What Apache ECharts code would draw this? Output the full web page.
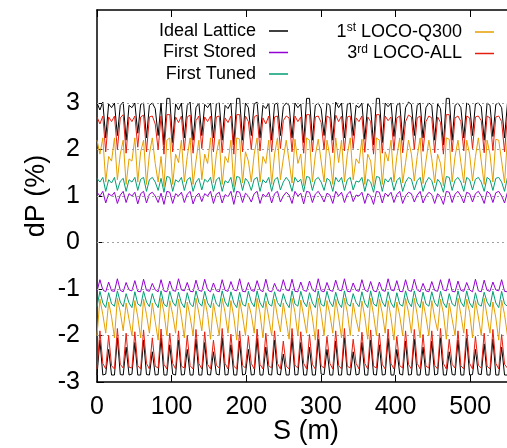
<!DOCTYPE html>
<html><head><meta charset="utf-8">
<script src="https://cdn.jsdelivr.net/npm/echarts@6/dist/echarts.min.js"></script>
<style>html,body{margin:0;padding:0;background:#fff}#c{width:507px;height:448px}</style>
</head><body><div id="c"></div>
<script>
// S positions (m)
const S = [0,3.9,7.8,11.7,15.6,19.5,23.4,27.3,31.2,35.1,39,42.9,46.8,50.7,54.6,58.5,62.4,66.3,70.2,74.1,78,81.9,85.8,89.7,
93.6,97.5,101.4,105.3,109.2,113.1,117,120.9,124.8,128.7,132.6,136.5,140.4,144.3,148.2,152.1,156,159.9,163.8,167.7,171.6,175.5,179.4,183.3,
187.2,191.1,195,198.9,202.8,206.7,210.6,214.5,218.4,222.3,226.2,230.1,234,237.9,241.8,245.7,249.6,253.5,257.4,261.3,265.2,269.1,273,276.9,
280.8,284.7,288.6,292.5,296.4,300.3,304.2,308.1,312,315.9,319.8,323.7,327.6,331.5,335.4,339.3,343.2,347.1,351,354.9,358.8,362.7,366.6,370.5,
374.4,378.3,382.2,386.1,390,393.9,397.8,401.7,405.6,409.5,413.4,417.3,421.2,425.1,429,432.9,436.8,440.7,444.6,448.5,452.4,456.3,460.2,464.1,
468,471.9,475.8,479.7,483.6,487.5,491.4,495.3,499.2,503.1,507,510.9,514.8,518.7,522.6,526.5,530.4,534.3,538.2,542.1,546,549.9,553.8,557.7,
561.6];

const idealUp = [3.0,2.85,3.02,2.25,2.98,2.9, 3.0,2.3,2.95,3.02,2.2,2.95, 2.9,3.0,2.35,2.97,3.0,2.25, 2.95,3.0,2.88,2.3,3.0,2.1,
3.1,3.1,2.15,2.98,2.85,3.0, 2.25,2.95,3.02,2.2,2.9,3.0, 2.3,2.97,2.9,3.0,2.25,2.98, 3.0,2.2,2.95,2.88,3.0,2.1,
3.1,3.1,2.2,3.0,2.9,2.3, 2.98,3.02,2.25,2.95,2.88,3.0, 2.2,2.97,3.0,2.3,2.92,3.0, 2.95,2.25,3.0,2.9,2.98,2.15,
3.1,3.1,2.2,2.95,3.0,2.88, 2.3,3.0,2.95,2.2,3.02,2.9, 3.0,2.25,2.97,3.0,2.3,2.95, 2.9,3.0,2.22,2.98,2.9,2.1,
3.1,3.1,2.15,3.0,2.92,3.0, 2.28,2.95,3.0,2.2,2.9,3.02, 2.97,2.3,2.95,3.0,2.25,2.9, 3.0,2.95,2.2,2.98,2.88,2.1,
3.1,3.1,2.2,2.95,3.0,2.9, 2.25,3.0,2.95,2.3,2.98,3.0, 2.92,2.2,3.0,2.95,2.28,2.97, 3.0,2.9,2.25,3.0,2.95,2.15,
3.1];
const idealLo = [-2.85,-2.1,-2.85,-2.83,-2.3,-2.85, -2.85,-2.05,-2.84,-2.85,-2.25,-2.85, -2.83,-2.15,-2.85,-2.85,-2.1,-2.84, -2.85,-2.35,-2.85,-2.84,-2.05,-2.85,
-2.85,-2.2,-2.83,-2.85,-2.1,-2.85, -2.84,-2.3,-2.85,-2.85,-2.08,-2.85, -2.85,-2.15,-2.84,-2.85,-2.35,-2.83, -2.85,-2.05,-2.85,-2.84,-2.2,-2.85,
-2.85,-2.12,-2.85,-2.83,-2.3,-2.85, -2.84,-2.06,-2.85,-2.85,-2.25,-2.84, -2.85,-2.1,-2.83,-2.85,-2.4,-2.85, -2.85,-2.05,-2.85,-2.84,-2.15,-2.85,
-2.85,-2.25,-2.85,-2.85,-2.08,-2.83, -2.84,-2.3,-2.85,-2.85,-2.12,-2.85, -2.85,-2.05,-2.84,-2.85,-2.35,-2.85, -2.83,-2.15,-2.85,-2.85,-2.1,-2.84,
-2.85,-2.2,-2.85,-2.84,-2.06,-2.85, -2.85,-2.3,-2.83,-2.85,-2.12,-2.85, -2.84,-2.08,-2.85,-2.85,-2.25,-2.85, -2.85,-2.12,-2.85,-2.83,-2.05,-2.85,
-2.85,-2.35,-2.84,-2.85,-2.1,-2.85, -2.85,-2.06,-2.85,-2.84,-2.3,-2.83, -2.84,-2.18,-2.85,-2.85,-2.08,-2.85, -2.85,-2.25,-2.85,-2.85,-2.12,-2.84,
-2.85];

const storedUp = [1.08,1.0,1.1,0.85,1.05,1.0, 1.08,0.84,1.02,1.1,0.86,1.05, 1.0,1.08,0.83,1.05,1.1,0.85, 1.04,1.08,1.0,0.86,1.06,0.82,
1.1,1.08,0.84,1.05,1.0,1.08, 0.86,1.04,1.1,0.83,1.0,1.06, 0.88,1.05,1.0,1.1,0.84,1.04, 1.08,0.85,1.03,0.98,1.1,0.82,
1.1,1.08,0.86,1.06,1.0,0.87, 1.05,1.1,0.84,1.04,0.98,1.08, 0.85,1.05,1.1,0.87,1.0,1.08, 1.02,0.84,1.1,1.0,1.06,0.83,
1.1,1.08,0.86,1.04,1.1,1.0, 0.87,1.06,1.02,0.84,1.1,1.0, 1.08,0.86,1.04,1.1,0.88,1.02, 1.0,1.08,0.84,1.05,1.0,0.82,
1.1,1.08,0.85,1.06,1.0,1.08, 0.86,1.03,1.1,0.84,1.0,1.08, 1.05,0.87,1.02,1.1,0.85,1.0, 1.08,1.03,0.84,1.05,0.98,0.82,
1.1,1.08,0.86,1.04,1.1,1.0, 0.85,1.08,1.05,0.87,1.05,1.1, 1.0,0.84,1.1,1.05,0.86,1.07, 1.1,1.0,0.85,1.08,1.04,0.83,
1.1];
const storedLo = [-1.05,-0.8,-1.02,-1.06,-0.85,-1.04, -1.05,-0.78,-1.03,-1.06,-0.86,-1.02, -1.04,-0.82,-1.05,-1.06,-0.79,-1.03, -1.05,-0.88,-1.02,-1.06,-0.8,-1.04,
-1.06,-0.83,-1.03,-1.05,-0.78,-1.02, -1.04,-0.86,-1.05,-1.06,-0.81,-1.03, -1.05,-0.79,-1.02,-1.06,-0.87,-1.04, -1.06,-0.8,-1.03,-1.05,-0.84,-1.02,
-1.04,-0.78,-1.05,-1.06,-0.86,-1.03, -1.05,-0.82,-1.02,-1.06,-0.79,-1.04, -1.06,-0.88,-1.03,-1.05,-0.8,-1.02, -1.04,-0.79,-1.05,-1.06,-0.85,-1.03,
-1.05,-0.83,-1.02,-1.06,-0.78,-1.04, -1.06,-0.86,-1.03,-1.05,-0.81,-1.02, -1.04,-0.78,-1.05,-1.06,-0.87,-1.03, -1.05,-0.8,-1.02,-1.06,-0.84,-1.04,
-1.06,-0.85,-1.03,-1.05,-0.78,-1.02, -1.04,-0.82,-1.05,-1.06,-0.8,-1.03, -1.05,-0.79,-1.02,-1.06,-0.88,-1.04, -1.06,-0.84,-1.03,-1.05,-0.8,-1.02,
-1.04,-0.78,-1.05,-1.06,-0.83,-1.03, -1.05,-0.86,-1.02,-1.06,-0.79,-1.04, -1.06,-0.81,-1.03,-1.05,-0.85,-1.02, -1.04,-0.8,-1.05,-1.06,-0.78,-1.03,
-1.05];

const tunedUp = [1.38,1.3,1.4,1.1,1.35,1.28, 1.4,1.12,1.32,1.38,1.1,1.35, 1.3,1.4,1.12,1.36,1.4,1.1, 1.35,1.4,1.3,1.12,1.38,1.08,
1.42,1.4,1.1,1.35,1.3,1.4, 1.12,1.35,1.4,1.1,1.3,1.38, 1.13,1.36,1.3,1.4,1.1,1.35, 1.4,1.1,1.33,1.28,1.4,1.08,
1.42,1.4,1.12,1.38,1.3,1.12, 1.36,1.4,1.1,1.35,1.28,1.4, 1.1,1.35,1.4,1.13,1.3,1.4, 1.32,1.1,1.4,1.3,1.36,1.09,
1.42,1.4,1.12,1.35,1.4,1.3, 1.12,1.38,1.33,1.1,1.4,1.3, 1.4,1.12,1.35,1.4,1.13,1.32, 1.3,1.4,1.1,1.36,1.3,1.08,
1.42,1.4,1.1,1.37,1.3,1.4, 1.12,1.33,1.4,1.1,1.3,1.4, 1.36,1.13,1.33,1.4,1.1,1.3, 1.4,1.33,1.1,1.36,1.28,1.08,
1.42,1.4,1.12,1.34,1.4,1.3, 1.1,1.4,1.35,1.13,1.36,1.4, 1.3,1.1,1.4,1.35,1.12,1.38, 1.4,1.3,1.1,1.4,1.34,1.08,
1.42];
const tunedLo = [-1.38,-1.05,-1.3,-1.4,-1.08,-1.32, -1.37,-1.04,-1.28,-1.38,-1.1,-1.3, -1.4,-1.06,-1.32,-1.37,-1.05,-1.28, -1.38,-1.1,-1.3,-1.4,-1.04,-1.33,
-1.38,-1.05,-1.28,-1.37,-1.07,-1.3, -1.4,-1.08,-1.32,-1.38,-1.04,-1.29, -1.37,-1.05,-1.3,-1.4,-1.1,-1.32, -1.38,-1.04,-1.28,-1.38,-1.06,-1.3,
-1.4,-1.07,-1.33,-1.37,-1.05,-1.28, -1.38,-1.04,-1.3,-1.4,-1.08,-1.32, -1.37,-1.06,-1.29,-1.38,-1.1,-1.3, -1.4,-1.04,-1.32,-1.37,-1.05,-1.28,
-1.38,-1.08,-1.3,-1.4,-1.04,-1.33, -1.37,-1.05,-1.28,-1.38,-1.07,-1.3, -1.4,-1.04,-1.32,-1.37,-1.1,-1.29, -1.38,-1.06,-1.3,-1.4,-1.04,-1.32,
-1.37,-1.05,-1.28,-1.38,-1.06,-1.3, -1.4,-1.08,-1.33,-1.37,-1.04,-1.28, -1.38,-1.04,-1.3,-1.4,-1.07,-1.32, -1.37,-1.06,-1.29,-1.38,-1.05,-1.3,
-1.4,-1.1,-1.32,-1.37,-1.04,-1.28, -1.38,-1.04,-1.3,-1.4,-1.08,-1.33, -1.37,-1.07,-1.28,-1.38,-1.05,-1.3, -1.4,-1.05,-1.32,-1.37,-1.06,-1.29,
-1.38];

const locoQUp = [2.2,1.9,2.25,1.3,1.85,1.75, 2.25,1.35,1.9,2.2,1.25,1.8, 1.75,2.25,1.3,1.95,2.2,1.25, 1.9,2.25,1.7,1.3,1.85,1.2,
2.2,2.25,1.25,1.9,1.72,2.2, 1.3,1.85,2.25,1.25,1.75,2.2, 1.35,1.9,1.7,2.25,1.28,1.9, 2.22,1.25,1.85,1.72,2.2,1.2,
2.25,2.22,1.28,1.95,1.75,1.3, 1.9,2.25,1.3,1.85,1.7,2.2, 1.25,1.9,2.25,1.35,1.8,2.2, 1.75,1.28,2.22,1.7,1.9,1.22,
2.25,2.2,1.3,1.88,2.22,1.75, 1.3,2.2,1.85,1.25,2.25,1.72, 2.2,1.3,1.9,2.25,1.35,1.8, 1.7,2.22,1.25,1.9,1.75,1.2,
2.25,2.2,1.25,1.95,1.75,2.2, 1.3,1.85,2.25,1.28,1.72,2.2, 1.9,1.32,1.85,2.25,1.27,1.75, 2.2,1.8,1.28,1.9,1.7,1.22,
2.25,2.22,1.3,1.85,2.2,1.72, 1.28,2.2,1.9,1.32,1.85,2.25, 1.75,1.25,2.2,1.9,1.3,2.22, 2.2,1.75,1.28,2.25,1.85,1.2,
2.22];
const locoQLo = [-2.0,-1.22,-1.55,-1.95,-1.28,-1.6, -2.05,-1.2,-1.5,-1.9,-1.3,-1.65, -2.0,-1.25,-1.6,-2.05,-1.22,-1.55, -1.95,-1.3,-1.7,-2.1,-1.2,-1.5,
-2.0,-1.25,-1.55,-1.95,-1.22,-1.6, -2.05,-1.28,-1.6,-2.0,-1.2,-1.52, -1.9,-1.22,-1.55,-2.08,-1.3,-1.65, -2.0,-1.2,-1.5,-1.95,-1.25,-1.6,
-2.1,-1.24,-1.58,-2.0,-1.3,-1.55, -1.95,-1.2,-1.52,-2.05,-1.26,-1.62, -2.0,-1.22,-1.6,-1.92,-1.3,-1.68, -2.08,-1.2,-1.5,-2.0,-1.24,-1.58,
-1.95,-1.28,-1.62,-2.1,-1.2,-1.52, -2.0,-1.25,-1.55,-1.95,-1.22,-1.6, -2.05,-1.2,-1.5,-2.0,-1.3,-1.65, -1.92,-1.26,-1.6,-2.08,-1.2,-1.55,
-2.0,-1.22,-1.52,-1.95,-1.25,-1.62, -2.1,-1.28,-1.58,-2.0,-1.2,-1.5, -1.95,-1.2,-1.55,-2.05,-1.27,-1.6, -2.0,-1.25,-1.62,-1.9,-1.22,-1.52,
-2.08,-1.3,-1.65,-2.0,-1.2,-1.55, -1.95,-1.22,-1.5,-2.05,-1.25,-1.6, -2.0,-1.2,-1.58,-1.95,-1.28,-1.62, -2.1,-1.24,-1.55,-2.0,-1.2,-1.5,
-1.95];

const locoAUp = [2.7,2.55,2.72,1.95,2.7,2.6, 2.72,2.0,2.68,2.75,1.92,2.7, 2.6,2.72,2.05,2.7,2.74,1.95, 2.7,2.72,2.55,2.0,2.72,1.9,
2.75,2.75,1.95,2.7,2.58,2.72, 1.98,2.7,2.74,1.92,2.62,2.72, 2.02,2.7,2.6,2.72,1.95,2.7, 2.72,1.93,2.68,2.58,2.72,1.9,
2.75,2.75,1.95,2.72,2.6,2.0, 2.7,2.74,1.97,2.68,2.55,2.72, 1.95,2.7,2.72,2.02,2.62,2.72, 2.68,1.95,2.72,2.6,2.7,1.92,
2.75,2.75,1.95,2.7,2.72,2.58, 2.0,2.72,2.68,1.93,2.74,2.6, 2.72,1.97,2.7,2.72,2.02,2.68, 2.6,2.72,1.94,2.7,2.6,1.9,
2.75,2.75,1.92,2.72,2.62,2.7, 1.98,2.68,2.72,1.93,2.6,2.74, 2.7,2.0,2.68,2.72,1.96,2.6, 2.72,2.68,1.93,2.7,2.58,1.9,
2.75,2.75,1.95,2.68,2.72,2.6, 1.97,2.72,2.68,2.02,2.7,2.72, 2.62,1.93,2.72,2.68,1.98,2.7, 2.72,2.6,1.95,2.72,2.68,1.92,
2.75];
const locoALo = [-2.72,-1.9,-2.6,-2.72,-2.0,-2.65, -2.72,-1.85,-2.62,-2.7,-1.95,-2.68, -2.7,-1.92,-2.65,-2.72,-1.88,-2.6, -2.72,-2.05,-2.66,-2.7,-1.86,-2.62,
-2.72,-1.95,-2.6,-2.72,-1.9,-2.66, -2.7,-2.0,-2.65,-2.72,-1.87,-2.6, -2.72,-1.92,-2.62,-2.72,-2.1,-2.64, -2.7,-1.85,-2.6,-2.72,-1.97,-2.66,
-2.72,-1.9,-2.64,-2.7,-2.02,-2.6, -2.72,-1.86,-2.62,-2.72,-1.95,-2.65, -2.7,-1.9,-2.6,-2.72,-2.12,-2.66, -2.72,-1.85,-2.64,-2.7,-1.92,-2.6,
-2.72,-1.98,-2.62,-2.72,-1.87,-2.65, -2.7,-2.02,-2.6,-2.72,-1.9,-2.64, -2.72,-1.85,-2.66,-2.7,-2.08,-2.6, -2.72,-1.93,-2.6,-2.72,-1.88,-2.66,
-2.7,-1.95,-2.62,-2.72,-1.86,-2.6, -2.72,-2.02,-2.65,-2.7,-1.9,-2.62, -2.72,-1.87,-2.6,-2.72,-1.98,-2.66, -2.7,-1.9,-2.64,-2.72,-1.85,-2.6,
-2.72,-2.08,-2.62,-2.7,-1.9,-2.65, -2.72,-1.86,-2.6,-2.72,-2.02,-2.64, -2.7,-1.95,-2.66,-2.72,-1.87,-2.6, -2.72,-1.98,-2.62,-2.7,-1.9,-2.66,
-2.72];

const yTicks = [-3,-2,-1,0,1,2,3];
const xTicks = [0,100,200,300,400,500];
const names = ['Ideal Lattice','First Stored','First Tuned','1st LOCO-Q300','3rd LOCO-ALL'];
const colors = ['#000000','#9400d3','#009e73','#e69f00','#e51e10'];
const ups = [idealUp, storedUp, tunedUp, locoQUp, locoAUp];
const los = [idealLo, storedLo, tunedLo, locoQLo, locoALo];

const FONT = '"Liberation Sans", Arial, sans-serif';
const series = [];
series.push({
  type:'line', data:[], xAxisIndex:0, silent:true, z:1,
  markLine:{silent:true, symbol:['none','none'], label:{show:false},
    lineStyle:{color:'#a0a0a0', type:[2,3], width:1},
    data: yTicks.filter(v=>v!==-3).map(v=>({yAxis:v}))}
});
names.forEach((n,k)=>{
  [ups[k], los[k]].forEach(arr=>{
    series.push({
      name:n, type:'line', xAxisIndex:0, showSymbol:false, symbol:'none',
      lineStyle:{width:1, color:colors[k]}, itemStyle:{color:colors[k]},
      data: S.map((s,i)=>[s, arr[i]]), z:2+k
    });
  });
});

function fmt(name){
  if (name.indexOf('1st')===0) return '{n|1}{s|st}{n|'+name.slice(3)+'}';
  if (name.indexOf('3rd')===0) return '{n|3}{s|rd}{n|'+name.slice(3)+'}';
  return name;
}
const legendText = {fontSize:18, color:'#000', fontFamily:FONT, lineHeight:20, padding:[0,8,0,0],
  rich:{n:{fontSize:18, fontFamily:FONT, color:'#000', lineHeight:20}, s:{fontSize:12, fontFamily:FONT, color:'#000', verticalAlign:'top', lineHeight:20, padding:[0,0,6,0]}}};

const chart = echarts.init(document.getElementById('c'), null, {renderer:'canvas'});
chart.setOption({
  animation:false,
  backgroundColor:'#fff',
  grid:{left:97, top:10, bottom:66, right:-8, containLabel:false, outerBoundsMode:'none'},
  legend:[
    {data:names.slice(0,3), orient:'vertical', align:'right', right:219, top:21, padding:0,
     itemGap:1.5, itemWidth:19, itemHeight:1.5, icon:'rect', textStyle:legendText, formatter:fmt},
    {data:names.slice(3), orient:'vertical', align:'right', right:13, top:22, padding:0,
     itemGap:1.5, itemWidth:19, itemHeight:1.5, icon:'rect', textStyle:legendText, formatter:fmt}
  ],
  xAxis:[
    {type:'value', min:0, max:560, position:'bottom',
     name:'S (m)', nameLocation:'middle', nameGap:36, nameMoveOverlap:false,
     nameTextStyle:{fontSize:27, color:'#000', fontFamily:FONT, lineHeight:27},
     axisLine:{onZero:false, lineStyle:{color:'#000', width:1.5}},
     axisTick:{inside:true, length:7, customValues:xTicks, lineStyle:{color:'#000', width:1}},
     axisLabel:{customValues:xTicks, fontSize:25, color:'#000', fontFamily:FONT, margin:13},
     splitLine:{show:false}},
    {type:'value', min:0, max:560, position:'top',
     axisLine:{onZero:false, lineStyle:{color:'#000', width:1.5}},
     axisTick:{inside:true, length:7, customValues:xTicks, lineStyle:{color:'#000', width:1}},
     axisLabel:{show:false}, splitLine:{show:false}}
  ],
  yAxis:{type:'value', min:-3, max:5,
     name:'dP (%)', nameLocation:'middle', nameGap:47, nameMoveOverlap:false,
     nameTextStyle:{fontSize:27, color:'#000', fontFamily:FONT},
     axisLine:{onZero:false, lineStyle:{color:'#000', width:1.5}},
     axisTick:{inside:true, length:7, customValues:yTicks, lineStyle:{color:'#000', width:1}},
     axisLabel:{customValues:yTicks, fontSize:25, color:'#000', fontFamily:FONT, margin:17},
     splitLine:{show:false}},
  series: series
});
</script></body></html>
